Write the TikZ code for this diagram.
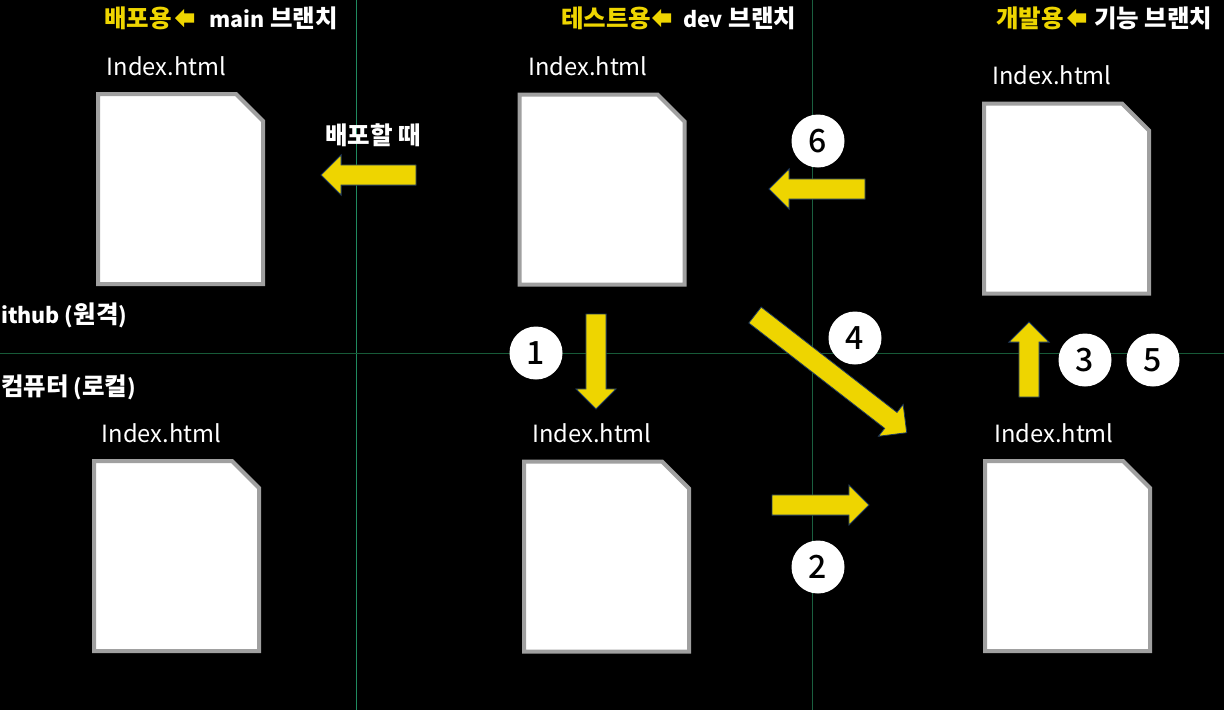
\documentclass[tikz,border=0pt]{standalone}
\usepackage{fontspec}
\setmainfont{Noto Sans CJK KR}
\newfontfamily\mediumfont{Noto Sans CJK KR Medium}
\usetikzlibrary{shapes.arrows}
\definecolor{blockyellow}{HTML}{EED500}
\definecolor{arrowedge}{HTML}{1F3A5F}
\definecolor{docedge}{HTML}{A0A0A0}
\definecolor{rulea}{HTML}{1F8A5F}
\definecolor{ruleb}{HTML}{1A5F3F}
\definecolor{rulec}{HTML}{175A38}
\newcommand{\ko}{\fontsize{24.5}{26}\selectfont}
\newcommand{\la}{\fontsize{21.5}{26}\selectfont}
\newcommand{\docfile}[1]{\draw[docline] (#1.north west) -- ([xshift=-27pt]#1.north east) -- ([yshift=-27pt]#1.north east) -- (#1.south east) -- (#1.south west) -- cycle;}
\tikzset{
  x=1pt,y=-1pt,
  docbox/.style={minimum width=165pt,minimum height=190pt,inner sep=0pt,outer sep=0pt},
  docline/.style={draw=docedge,fill=white,line width=4pt,line join=miter},
  filelabel/.style={text=white,font=\fontsize{23.7}{26}\selectfont,inner sep=0pt},
  headlabel/.style={font=\ko\bfseries,inner sep=0pt,anchor=west},
  sidelabel/.style={text=white,font=\la\bfseries,inner sep=0pt,anchor=west},
  blockarrow/.style={single arrow,fill=blockyellow,draw=arrowedge,line width=0.8pt,anchor=tip,
    inner xsep=0pt,inner ysep=9.7pt,single arrow head extend=10pt,single arrow tip angle=90,outer sep=0pt},
  smallarrow/.style={single arrow,fill=blockyellow,minimum height=19pt,anchor=tip,rotate=180,
    inner xsep=0pt,inner ysep=4.5pt,single arrow head extend=4.5pt,single arrow tip angle=90,outer sep=0pt},
  stepmark/.style={circle,fill=white,minimum size=53pt,inner sep=0pt,text=black,font=\fontsize{32}{34}\selectfont\mediumfont},
  rulev1/.style={draw=rulea,line width=0.9pt},
  rulev2/.style={draw=ruleb,line width=0.9pt},
  ruleh/.style={draw=rulec,line width=0.9pt}
}
\begin{document}
\begin{tikzpicture}
\fill[black] (0,0) rectangle (1224,710);
\useasboundingbox (0,0) rectangle (1224,710);
% grid lines
\coordinate (vaT) at (356,0); \coordinate (vaB) at (356,710);
\coordinate (vbT) at (812,0); \coordinate (vbB) at (812,710);
\coordinate (hL) at (0,353); \coordinate (hR) at (1224,353);
\draw[rulev1] (vaT) -- (vaB);
\draw[rulev2] (vbT) -- (vbB);
\draw[ruleh] (hL) -- (hR);
% headers
\node[headlabel,text=blockyellow] (h1) at (104,18) {배포용};
\node[smallarrow] (h1a) at (175,18) {};
\node[headlabel,text=white] (h1b) at (209,18) {{\la main} 브랜치};
\node[headlabel,text=blockyellow] (h2) at (561,18) {테스트용};
\node[smallarrow] (h2a) at (652,18) {};
\node[headlabel,text=white] (h2b) at (683,18) {{\la dev} 브랜치};
\node[headlabel,text=blockyellow] (h3) at (996,18) {개발용};
\node[smallarrow] (h3a) at (1067,18) {};
\node[headlabel,text=white] (h3b) at (1094,18) {기능 브랜치};
% side labels
\node[sidelabel] (sg) at (1,315) {ithub ({\ko 원격})};
\node[sidelabel] (sc) at (1,387) {{\ko 컴퓨터} ({\ko 로컬})};
\node[sidelabel,font=\ko\bfseries] (sd) at (325,135) {배포할 때};
% documents
\node[docbox] (d1) at (180.5,189) {};
\node[docbox] (d2) at (602,189.5) {};
\node[docbox] (d3) at (1066.5,198.5) {};
\node[docbox] (d4) at (176.5,556) {};
\node[docbox] (d5) at (606.5,556.5) {};
\node[docbox] (d6) at (1067.5,556) {};
\docfile{d1}\docfile{d2}\docfile{d3}\docfile{d4}\docfile{d5}\docfile{d6}
% file labels
\node[filelabel] (l1) at (166.5,66.5) {Index.html};
\node[filelabel] (l2) at (588,66.5) {Index.html};
\node[filelabel] (l3) at (1052,75.5) {Index.html};
\node[filelabel] (l4) at (161.5,433.5) {Index.html};
\node[filelabel] (l5) at (592,433.5) {Index.html};
\node[filelabel] (l6) at (1054,433.5) {Index.html};
% block arrows
\node[blockarrow,minimum height=95pt,rotate=180] (a0) at (321,175) {};
\node[blockarrow,minimum height=96pt,rotate=180] (a6) at (769,189) {};
\node[blockarrow,minimum height=95pt,rotate=-90] (a1) at (596,409) {};
\node[blockarrow,minimum height=97pt] (a2) at (869,505) {};
\node[blockarrow,minimum height=75pt,rotate=90] (a3) at (1029,322) {};
\node[blockarrow,minimum height=192pt,rotate=-37.8] (a4) at (906.7,432.7) {};
% step markers
\node[stepmark] (n1) at (536,353) {1};
\node[stepmark] (n2) at (818,567) {2};
\node[stepmark] (n3) at (1085,360) {3};
\node[stepmark] (n4) at (855,338) {4};
\node[stepmark] (n5) at (1153,360) {5};
\node[stepmark] (n6) at (818,141) {6};
\end{tikzpicture}
\end{document}
